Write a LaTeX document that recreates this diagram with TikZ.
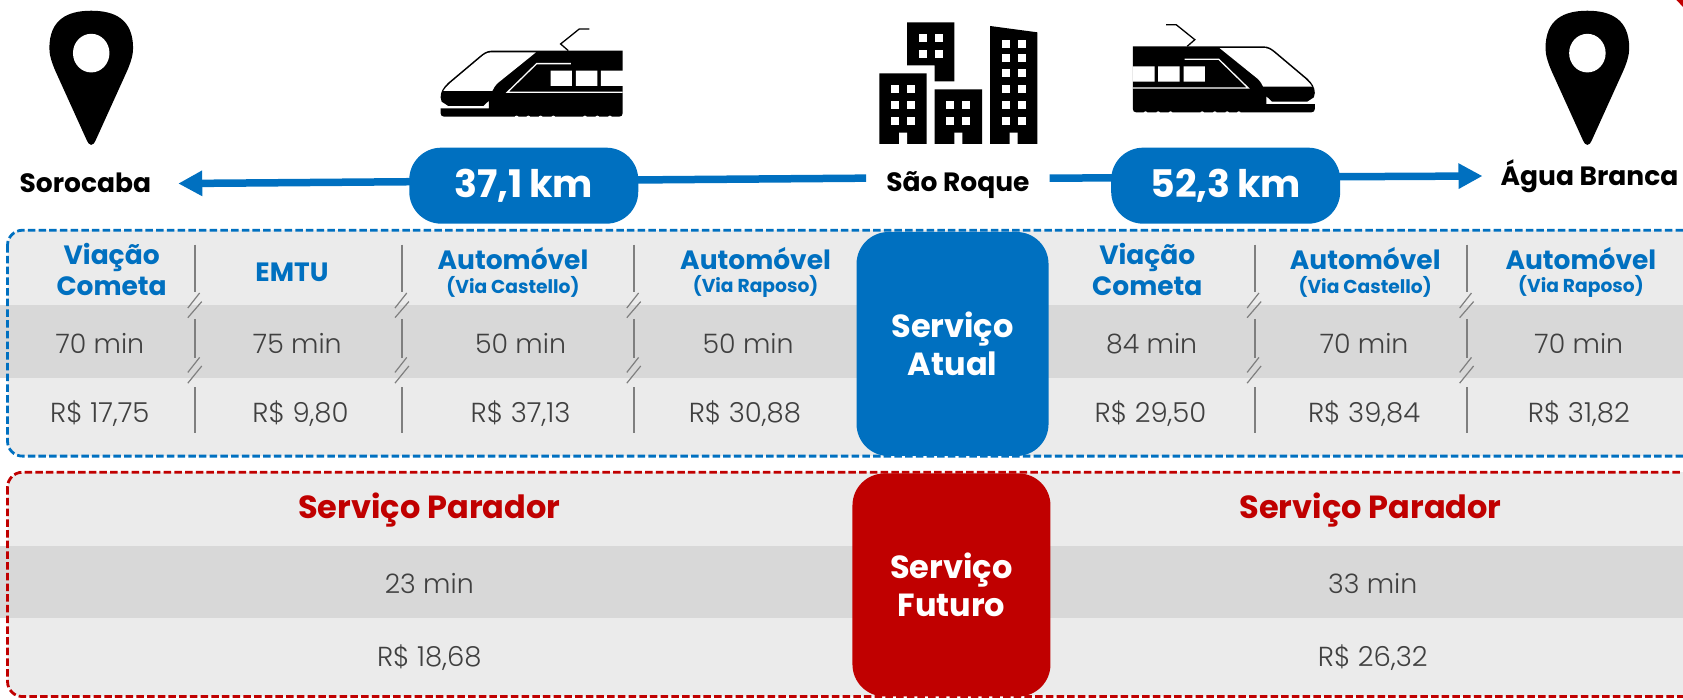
\documentclass[tikz,border=0pt]{standalone}
\usepackage{fontspec}
\setmainfont{Poppins}
\newfontfamily\plight{Poppins Light}
\usetikzlibrary{arrows.meta,calc}
\definecolor{cblue}{HTML}{0070C0}
\definecolor{cred}{HTML}{C00000}
\definecolor{cpanel}{HTML}{EBEBEB}
\definecolor{cband}{HTML}{D8D8D8}
\definecolor{ctxt}{HTML}{404040}
\definecolor{csep}{HTML}{7F7F7F}
\tikzset{
  placelabel/.style={font=\fontsize{26.5}{28}\selectfont\bfseries,text=black,inner ysep=0pt},
  kmpill/.style={rounded corners=32pt,fill=cblue,text=white,minimum width=229pt,minimum height=76pt,inner sep=0pt,font=\fontsize{38}{40}\selectfont\bfseries},
  routeline/.style={draw=cblue,line width=7.5pt,-{Triangle[length=24pt,width=24pt]}},
  blueh/.style={text=cblue,font=\fontsize{26.5}{28}\selectfont\bfseries,align=center,inner sep=0pt},
  bluesub/.style={text=cblue,font=\fontsize{18.7}{20}\selectfont\bfseries,inner sep=0pt},
  val/.style={text=ctxt,font=\fontsize{27.5}{29}\selectfont\plight,inner sep=0pt},
  timeval/.style={val,font=\fontsize{26.8}{29}\selectfont\plight},
  redh/.style={text=cred,font=\fontsize{32}{34}\selectfont\bfseries,inner sep=0pt},
  bigbox/.style={rounded corners=32pt,text=white,font=\fontsize{32}{38}\selectfont\bfseries,align=center,inner sep=0pt},
  paneldash/.style={line width=2.8pt,dash pattern=on 7.5pt off 3.2pt,rounded corners=15pt},
  sepline/.style={draw=csep,line width=2pt},
  sepslash/.style={draw=csep,line width=1.2pt},
}
\newcommand{\pinshape}[2]{% centre x, reference y
  \begin{scope}[shift={(#1,#2)}]
    \fill[black] (0,110) .. controls (-2,110) and (-3,108) .. (-4,106)
      -- (-33,42) .. controls (-37,33) and (-39,26) .. (-39,20) .. controls (-39,-7) and (-22,-15) .. (0,-15)
      .. controls (22,-15) and (39,-7) .. (39,20) .. controls (39,26) and (37,33) .. (33,42)
      -- (4,106) .. controls (3,108) and (2,110) .. (0,110) -- cycle;
  \end{scope}}
\newcommand{\trainshape}{%
  \fill[black] (608,122) -- (215,122) .. controls (200,122) and (190,130) .. (180,138) -- (85,218)
    .. controls (70,232) and (62,245) .. (62,262) -- (65,275) -- (85,288) -- (190,288) -- (207,272) -- (207,295) -- (62,295)
    -- (62,310) .. controls (62,316) and (66,320) .. (72,320) -- (598,320) .. controls (604,320) and (608,316) .. (608,310) -- cycle;
  \fill[white] (348,127) -- (215,127) .. controls (203,127) and (193,133) .. (184,141) -- (89,221)
    .. controls (81,228) and (74,236) .. (70,243) -- (217,243) .. controls (221,234) and (226,226) .. (235,218) -- cycle;
  \draw[white,line width=1.3pt] (453,161) -- (350,161) -- (262,247) -- (608,247);
  \fill[white] (392,182) rectangle (456,228) (468,182) rectangle (532,228) (543,182) rectangle (609,228);
  \foreach \nx in {290,325,362,400,495,532,570}{\fill[white] (\nx,323) circle[radius=6];}
  \draw[black,line width=1.3pt] (445,122) -- (422,102) -- (478,57) -- (508,57);
}
\begin{document}
\begin{tikzpicture}[x=1.0733pt,y=-1.0733pt]
\useasboundingbox (0,0) rectangle (1568.1,652.2);
\begin{scope}
\clip (0,0) rectangle (1568.1,652.2);
% red corner
\fill[cred] (1562,0) -- (1568.1,0) -- (1568.1,6.5) -- cycle;
% panels
\fill[cpanel,rounded corners=15pt] (7,214.5) rectangle (1600,425);
\fill[cband] (0,284) rectangle (1568.1,352);
\draw[paneldash,draw=cblue] (7,214.5) rectangle (1600,425);
\fill[cpanel,rounded corners=15pt] (7,440) rectangle (1600,649);
\fill[cband] (0,509) rectangle (1568.1,576);
\draw[paneldash,draw=cred] (7,440) rectangle (1600,649);
% separators
\foreach \sx in {182,375,591,1169,1367}{
  \draw[sepline] (\sx,228) -- (\sx,272) (\sx,297) -- (\sx,334) (\sx,361) -- (\sx,403);
  \draw[sepslash] (\sx-7,287) -- (\sx+4,273) (\sx-7,296) -- (\sx+6,281);
  \draw[sepslash] (\sx-7,347) -- (\sx+4,333) (\sx-7,357) -- (\sx+6,341);
}
% icons
\pinshape{85}{25}\fill[white] (85,49.5) ellipse[x radius=17,y radius=18];
\pinshape{1479}{25}\fill[white] (1479,49.5) ellipse[x radius=17,y radius=18];
\begin{scope}[shift={(391.3,9.3)},x=0.3333pt,y=-0.3333pt]\trainshape\end{scope}
\begin{scope}[shift={(1244.3,5.3)},x=-0.3333pt,y=-0.3333pt]\trainshape\end{scope}
\begin{scope}[shift={(801.3,9.3)},x=0.3333pt,y=-0.3333pt]
  \fill[black] (141,37) -- (283,37) -- (283,214) -- (224,214) -- (224,166) -- (141,166) -- cycle;
  \fill[black] (58,190) rectangle (200,402) (224,238) rectangle (366,402);
  \fill[black] (390,48) -- (532,67) -- (532,402) -- (390,402) -- cycle;
  \fill[white] (117,368) rectangle (141,402) (283,368) rectangle (307,402) (449,368) rectangle (473,402);
  \foreach \wx/\wy in {176/72,224/72,176/120,224/120,93/226,141/226,93/273,141/273,93/320,141/320,259/273,307/273,259/320,307/320,425/90,473/90,425/131,473/131,425/178,473/178,425/226,473/226,425/273,473/273,425/320,473/320}{
    \fill[white] (\wx,\wy) rectangle (\wx+24,\wy+24);}
\end{scope}
% place labels
\node[placelabel,inner xsep=27pt] (sorocaba) at (79.5,170) {Sorocaba};
\node[placelabel,inner xsep=20pt] (saoroque) at (892.5,172.5) {São Roque};
\node[placelabel,inner xsep=18pt] (agua) at (1481,164) {Água Branca};
\coordinate (srL) at ($(saoroque.west)+(0,-6.5)$);
\coordinate (srR) at ($(saoroque.east)+(0,-6.5)$);
\coordinate (sorEnd) at ($(sorocaba.east)+(0,1)$);
\draw[routeline] (srL) -- (sorEnd);
\draw[routeline] (srR) -- (agua.west);
\node[kmpill] (kmA) at (488,173) {37,1\,km};
\node[kmpill] (kmB) at (1142,173) {52,3\,km};
% boxes
\node[bigbox,fill=cblue,minimum width=192pt,minimum height=224pt] (atual) at (887.5,320.5) {Serviço\\Atual};
\node[bigbox,fill=cred,minimum width=198pt,minimum height=223pt] (futuro) at (886.5,545) {\raisebox{1.5pt}{Serviço}\\\raisebox{1.5pt}{Futuro}};
% headers
\node[blueh] (h1a) at (104,240) {Viação};
\node[blueh] (h1b) at (104,267) {Cometa};
\node[blueh] (h2) at (272,254) {EMTU};
\node[blueh] (h3) at (478,241) {Automóvel};
\node[bluesub] (h3s) at (478,267) {(Via Castello)};
\node[blueh] (h4) at (704,241) {Automóvel};
\node[bluesub] (h4s) at (704,267) {(Via Raposo)};
\node[blueh] (h5a) at (1069,240) {Viação};
\node[blueh] (h5b) at (1069,267) {Cometa};
\node[blueh] (h6) at (1272,241) {Automóvel};
\node[bluesub] (h6s) at (1272,267) {(Via Castello)};
\node[blueh] (h7) at (1473,241) {Automóvel};
\node[bluesub] (h7s) at (1473,267) {(Via Raposo)};
% values
\node[timeval] (t1) at (93,320) {70 min};
\node[timeval] (t2) at (277,320) {75 min};
\node[timeval] (t3) at (485,320) {50 min};
\node[timeval] (t4) at (697,320) {50 min};
\node[timeval] (t5) at (1073,320) {84 min};
\node[timeval] (t6) at (1271,320) {70 min};
\node[timeval] (t7) at (1471,320) {70 min};
\node[val] (p1) at (93,385.5) {R\$ 17,75};
\node[val] (p2) at (280,385.5) {R\$ 9,80};
\node[val] (p3) at (485,385.5) {R\$ 37,13};
\node[val] (p4) at (694,385.5) {R\$ 30,88};
\node[val] (p5) at (1072,385.5) {R\$ 29,50};
\node[val] (p6) at (1271,385.5) {R\$ 39,84};
\node[val] (p7) at (1471,385.5) {R\$ 31,82};
% future
\node[redh] (f1) at (400,475) {Serviço Parador};
\node[redh] (f2) at (1277,475) {Serviço Parador};
\node[timeval] (f3) at (400,544) {23 min};
\node[timeval] (f4) at (1279,544) {33 min};
\node[val] (f5) at (400,612.5) {R\$ 18,68};
\node[val] (f6) at (1279,612.5) {R\$ 26,32};
\end{scope}
\end{tikzpicture}
\end{document}
